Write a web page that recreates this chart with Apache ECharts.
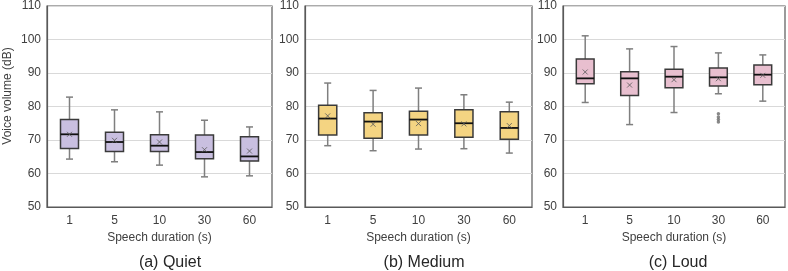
<!DOCTYPE html>
<html>
<head>
	<meta charset="utf-8"/>
	<title>Voice volume box plots</title>
</head>
<body style="margin: 0; background: #fff;">

	<div id="chart" style="width: 788px; height: 271px;"></div>

	<script src="https://cdn.jsdelivr.net/npm/echarts@6/dist/echarts.min.js"></script>
	<script>

		// speech duration categories
		var durations = ['1', '5', '10', '30', '60'];

		// [min, q1, median, q3, max] per duration
		var quietBox = [
			[64.3, 67.5, 71.7, 76.1, 82.8],
			[63.5, 66.6, 69.4, 72.3, 79.0],
			[62.5, 66.6, 68.3, 71.6, 78.4],
			[59.0, 64.4, 66.4, 71.5, 75.9],
			[59.3, 63.7, 65.1, 71.0, 73.9]
		];
		var quietMean = [71.7, 69.9, 69.4, 67.1, 66.7];

		var mediumBox = [
			[68.3, 71.5, 76.4, 80.4, 87.0],
			[66.8, 70.5, 75.5, 78.1, 84.8],
			[67.3, 71.5, 76.1, 78.6, 85.5],
			[67.4, 70.8, 75.0, 79.0, 83.5],
			[66.1, 70.2, 73.6, 78.4, 81.3]
		];
		var mediumMean = [77.2, 74.7, 74.9, 74.8, 74.3];

		var loudBox = [
			[81.2, 86.8, 88.4, 94.2, 101.1],
			[74.6, 83.3, 88.4, 90.4, 97.2],
			[78.2, 85.6, 88.9, 91.1, 97.9],
			[83.8, 86.1, 88.7, 91.5, 96.0],
			[81.6, 86.5, 89.5, 92.4, 95.4]
		];
		var loudMean = [90.3, 86.4, 88.0, 88.3, 89.3];
		// outliers: [category index, value]
		var loudOutliers = [[3, 77.8], [3, 76.9], [3, 76.1], [3, 75.4]];

		var panels = [
			{ title: '(a) Quiet',  box: quietBox,  mean: quietMean,  out: [],           fill: '#c9bfe0', left: 47,  width: 225, titleX: 165 },
			{ title: '(b) Medium', box: mediumBox, mean: mediumMean, out: [],           fill: '#f4d482', left: 305, width: 227, titleX: 419 },
			{ title: '(c) Loud',   box: loudBox,   mean: loudMean,   out: loudOutliers, fill: '#e8bfcf', left: 563, width: 222, titleX: 673 }
		];

		var frameColor = '#595959';

		function renderBox (fill) {
			return function (params, api) {
				var x = api.value(0);
				var pMin = api.coord([x, api.value(1)]);
				var pQ1 = api.coord([x, api.value(2)]);
				var pMed = api.coord([x, api.value(3)]);
				var pQ3 = api.coord([x, api.value(4)]);
				var pMax = api.coord([x, api.value(5)]);
				var bw = api.size([1, 0])[0] * 0.4;
				var cw = 7;
				var cx = pMed[0];
				var wStyle = { stroke: '#7f7f7f', lineWidth: 1.5 };
				return {
					type: 'group',
					children: [
						{ type: 'line', shape: { x1: cx, y1: pMax[1], x2: cx, y2: pQ3[1] }, style: wStyle },
						{ type: 'line', shape: { x1: cx, y1: pQ1[1], x2: cx, y2: pMin[1] }, style: wStyle },
						{ type: 'line', shape: { x1: cx - cw / 2, y1: pMax[1], x2: cx + cw / 2, y2: pMax[1] }, style: wStyle },
						{ type: 'line', shape: { x1: cx - cw / 2, y1: pMin[1], x2: cx + cw / 2, y2: pMin[1] }, style: wStyle },
						{ type: 'rect', shape: { x: cx - bw / 2, y: pQ3[1], width: bw, height: pQ1[1] - pQ3[1] },
							style: { fill: fill, stroke: '#3a3a3a', lineWidth: 1.5 } },
						{ type: 'line', shape: { x1: cx - bw / 2, y1: pMed[1], x2: cx + bw / 2, y2: pMed[1] },
							style: { stroke: '#111', lineWidth: 1.8 } }
					]
				};
			};
		}

		var option = {
			animation: false,
			textStyle: { fontFamily: 'Liberation Sans, Arial, sans-serif' },
			title: [],
			grid: [],
			xAxis: [],
			yAxis: [],
			series: [],
			graphic: [{
				type: 'text',
				x: 8, y: 96,
				rotation: Math.PI / 2,
				style: {
					text: 'Voice volume (dB)',
					font: '12px "Liberation Sans", Arial, sans-serif',
					fill: '#404040',
					align: 'center',
					verticalAlign: 'middle'
				}
			}]
		};

		panels.forEach(function (p, i) {
			option.grid.push({
				left: p.left, top: 5, width: p.width, height: 202,
				show: true, borderColor: frameColor, borderWidth: 1.2, backgroundColor: 'transparent'
			});
			option.title.push({
				text: p.title,
				left: p.titleX, top: 250,
				textAlign: 'center',
				textStyle: { fontSize: 16, fontWeight: 'normal', color: '#262626', fontFamily: 'Liberation Sans, Arial, sans-serif' }
			});
			option.xAxis.push({
				type: 'category',
				gridIndex: i,
				data: durations,
				name: 'Speech duration (s)',
				nameLocation: 'middle',
				nameGap: 25,
				nameTextStyle: { fontSize: 12, color: '#404040' },
				axisLine: { lineStyle: { color: frameColor, width: 1.2 } },
				axisTick: { inside: true, length: 4, lineStyle: { color: frameColor } },
				axisLabel: { fontSize: 12, color: '#404040', margin: 8 },
				splitLine: { show: false }
			});
			option.yAxis.push({
				type: 'value',
				gridIndex: i,
				min: 50, max: 110, interval: 10,
				axisLine: { show: true, lineStyle: { color: frameColor, width: 1.2 } },
				axisTick: { show: false },
				axisLabel: { fontSize: 12, color: '#404040', margin: 6 },
				splitLine: { lineStyle: { color: '#d9d9d9', width: 1.2 } }
			});

			var boxData = p.box.map(function (b, k) { return [k].concat(b); });
			option.series.push({
				type: 'custom',
				xAxisIndex: i, yAxisIndex: i,
				renderItem: renderBox(p.fill),
				encode: { x: 0, y: [1, 2, 3, 4, 5] },
				data: boxData,
				z: 2
			});
			option.series.push({
				type: 'scatter',
				xAxisIndex: i, yAxisIndex: i,
				symbol: 'path://M0,0L10,10M10,0L0,10',
				symbolSize: 5,
				itemStyle: { color: 'none', borderColor: '#595959', borderWidth: 1 },
				data: p.mean.map(function (m, k) { return [k, m]; }),
				z: 3
			});
			if (p.out.length) {
				option.series.push({
					type: 'scatter',
					xAxisIndex: i, yAxisIndex: i,
					symbol: 'circle',
					symbolSize: 3.5,
					itemStyle: { color: '#6b6b6b' },
					data: p.out,
					z: 3
				});
			}
		});

		var myChart = echarts.init(document.getElementById('chart'));
		myChart.setOption(option);

	</script>
</body>
</html>
